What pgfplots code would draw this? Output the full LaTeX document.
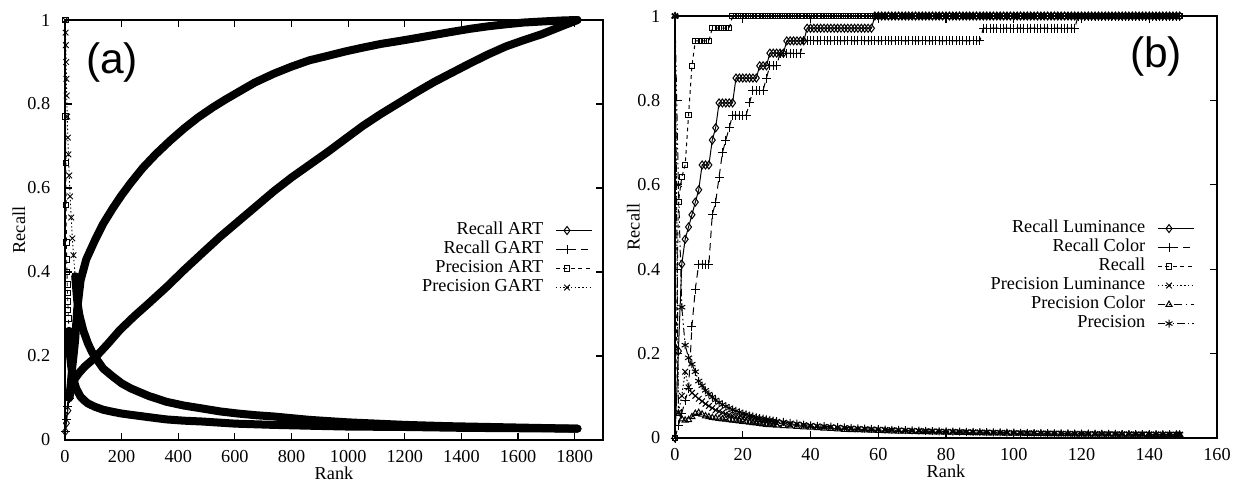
\documentclass[border=0pt]{standalone}
\usepackage{fontspec}
\setmainfont{Liberation Serif}
\newfontfamily\panelfont{Liberation Sans}
\usepackage{pgfplots}
\usepackage{pgfplotstable}
\pgfplotsset{compat=1.18}

% gnuplot-like line types
\tikzset{
  gp1/.style={black, line width=0.4pt, solid, mark=diamond, mark size=1.6pt, mark options={solid}},
  gp2/.style={black, line width=0.4pt, dash pattern=on 3pt off 2pt, mark=+, mark size=1.8pt, mark options={solid}},
  gp3/.style={black, line width=0.4pt, dash pattern=on 1.5pt off 1.5pt, mark=square, mark size=1.1pt, mark options={solid}},
  gp4/.style={black, line width=0.4pt, dash pattern=on 0.6pt off 0.9pt, mark=x, mark size=1.6pt, mark options={solid}},
  gp5/.style={black, line width=0.4pt, dash pattern=on 3pt off 1.5pt on 0.6pt off 1.5pt, mark=triangle, mark size=1.4pt, mark options={solid}},
  gp6/.style={black, line width=0.4pt, dash pattern=on 3pt off 1.2pt on 0.6pt off 1.2pt on 0.6pt off 1.2pt, mark=asterisk, mark size=1.6pt, mark options={solid}},
}

\newcommand\gpfont{\fontsize{7.3}{8.8}\selectfont}

\pgfplotsset{
  band/.style={black, line width=3.2pt, line join=round, line cap=round, mark=none, forget plot},
  gpaxis/.style={
    scale only axis, anchor=south west,
    ymin=0, ymax=1, ytick={0,0.2,0.4,0.6,0.8,1},
    tick align=inside, major tick length=2.8pt,
    axis line style={line width=0.45pt},
    every tick/.style={black, line width=0.45pt},
    tick label style={font=\gpfont},
    /pgf/number format/assume math mode=true,
    /pgf/number format/1000 sep={},
    xticklabel style={yshift=-0.7pt},
    yticklabel style={xshift=-2.4pt},
    every axis x label/.style={at={(axis description cs:0.5,0)}, anchor=center, yshift=-13.3pt, font=\gpfont},
    xlabel={Rank}, ylabel={Recall},
    clip=false,
    legend plot pos=right, legend cell align=right,
    legend style={draw=none, fill=none, inner sep=0pt, font=\gpfont,
      column sep=4.8pt, row sep=0pt, nodes={inner sep=0pt, text height=5.4pt, text depth=2.2pt}},
    legend image code/.code={\draw[mark repeat=2, mark phase=2, #1] plot coordinates {(0pt,0pt) (4.5pt,0pt) (14.4pt,0pt)};},
  },
}

% ---- panel (a) ----
\pgfplotstableread{
rank val
1 0.02
5 0.04
10 0.07
15 0.1
20 0.13
25 0.17
30 0.2
36 0.24
43 0.31
55 0.38
75 0.43
106 0.476
135 0.515
169 0.552
200 0.583
232 0.612
275 0.648
320 0.68
370 0.712
421 0.742
470 0.768
522 0.792
565 0.81
611 0.828
670 0.851
737 0.872
800 0.889
863 0.904
930 0.915
989 0.925
1050 0.934
1115 0.943
1180 0.95
1241 0.957
1300 0.964
1368 0.972
1430 0.979
1494 0.985
1560 0.99
1620 0.994
1700 0.997
1760 0.999
1810 1.0
}\recallart

\pgfplotstableread{
rank val
1 0.02
5 0.05
10 0.08
15 0.1
20 0.115
25 0.13
36 0.147
50 0.16
70 0.175
106 0.196
150 0.228
194 0.262
245 0.295
295 0.325
360 0.365
421 0.405
485 0.445
548 0.484
611 0.52
674 0.556
737 0.592
800 0.625
863 0.655
926 0.685
990 0.717
1052 0.748
1115 0.776
1178 0.802
1241 0.828
1305 0.853
1368 0.875
1431 0.897
1494 0.918
1557 0.937
1620 0.952
1683 0.966
1746 0.983
1810 1.0
}\recallgart

\pgfplotstableread{
rank val
1 1.0
2 0.77
3 0.66
4 0.56
5 0.47
6 0.43
7 0.40
8 0.37
9 0.35
10 0.33
11 0.31
12 0.29
14 0.26
16 0.23
18 0.2
22 0.175
26 0.16
30 0.143
40 0.122
55 0.103
70 0.093
81 0.087
106 0.079
135 0.072
169 0.067
200 0.063
232 0.06
300 0.054
358 0.049
420 0.046
485 0.044
600 0.039
737 0.036
863 0.034
1000 0.032
1200 0.031
1400 0.029
1600 0.028
1810 0.027
}\precart

\pgfplotstableread{
rank val
1 1.0
2 0.97
3 0.94
4 0.9
5 0.86
6 0.82
8 0.77
10 0.72
12 0.68
15 0.63
18 0.58
22 0.53
26 0.48
30 0.44
36 0.39
43 0.333
50 0.3
55 0.286
65 0.26
81 0.23
95 0.21
106 0.198
135 0.17
169 0.151
200 0.135
232 0.123
295 0.105
358 0.091
420 0.082
485 0.075
548 0.068
611 0.063
674 0.059
737 0.056
800 0.052
863 0.048
930 0.045
1000 0.042
1100 0.039
1200 0.036
1350 0.033
1500 0.031
1650 0.029
1810 0.027
}\precgart

% ---- panel (b) ----
\pgfplotstableread{
rank rl rc r
0 0 0 0
1 0.206 0.029 0.559
2 0.412 0.059 0.618
3 0.471 0.088 0.647
4 0.5 0.118 0.765
5 0.529 0.265 0.882
6 0.559 0.353 0.941
7 0.588 0.412 0.941
8 0.647 0.412 0.941
9 0.647 0.412 0.941
10 0.647 0.412 0.941
11 0.706 0.529 0.971
12 0.735 0.559 0.971
13 0.794 0.618 0.971
14 0.794 0.676 0.971
15 0.794 0.706 0.971
16 0.794 0.735 0.971
17 0.794 0.765 1
18 0.853 0.765 1
19 0.853 0.765 1
20 0.853 0.765 1
21 0.853 0.765 1
22 0.853 0.794 1
23 0.853 0.824 1
24 0.853 0.824 1
25 0.882 0.824 1
26 0.882 0.824 1
27 0.882 0.853 1
28 0.912 0.882 1
29 0.912 0.882 1
30 0.912 0.882 1
31 0.912 0.912 1
32 0.912 0.912 1
33 0.941 0.912 1
34 0.941 0.912 1
35 0.941 0.912 1
36 0.941 0.912 1
37 0.941 0.912 1
38 0.941 0.941 1
39 0.971 0.941 1
40 0.971 0.941 1
41 0.971 0.941 1
42 0.971 0.941 1
43 0.971 0.941 1
44 0.971 0.941 1
45 0.971 0.941 1
46 0.971 0.941 1
47 0.971 0.941 1
48 0.971 0.941 1
49 0.971 0.941 1
50 0.971 0.941 1
51 0.971 0.941 1
52 0.971 0.941 1
53 0.971 0.941 1
54 0.971 0.941 1
55 0.971 0.941 1
56 0.971 0.941 1
57 0.971 0.941 1
58 0.971 0.941 1
59 1 0.941 1
60 1 0.941 1
61 1 0.941 1
62 1 0.941 1
63 1 0.941 1
64 1 0.941 1
65 1 0.941 1
66 1 0.941 1
67 1 0.941 1
68 1 0.941 1
69 1 0.941 1
70 1 0.941 1
71 1 0.941 1
72 1 0.941 1
73 1 0.941 1
74 1 0.941 1
75 1 0.941 1
76 1 0.941 1
77 1 0.941 1
78 1 0.941 1
79 1 0.941 1
80 1 0.941 1
81 1 0.941 1
82 1 0.941 1
83 1 0.941 1
84 1 0.941 1
85 1 0.941 1
86 1 0.941 1
87 1 0.941 1
88 1 0.941 1
89 1 0.941 1
90 1 0.941 1
91 1 0.971 1
92 1 0.971 1
93 1 0.971 1
94 1 0.971 1
95 1 0.971 1
96 1 0.971 1
97 1 0.971 1
98 1 0.971 1
99 1 0.971 1
100 1 0.971 1
101 1 0.971 1
102 1 0.971 1
103 1 0.971 1
104 1 0.971 1
105 1 0.971 1
106 1 0.971 1
107 1 0.971 1
108 1 0.971 1
109 1 0.971 1
110 1 0.971 1
111 1 0.971 1
112 1 0.971 1
113 1 0.971 1
114 1 0.971 1
115 1 0.971 1
116 1 0.971 1
117 1 0.971 1
118 1 0.971 1
119 1 1 1
120 1 1 1
121 1 1 1
122 1 1 1
123 1 1 1
124 1 1 1
125 1 1 1
126 1 1 1
127 1 1 1
128 1 1 1
129 1 1 1
130 1 1 1
131 1 1 1
132 1 1 1
133 1 1 1
134 1 1 1
135 1 1 1
136 1 1 1
137 1 1 1
138 1 1 1
139 1 1 1
140 1 1 1
141 1 1 1
142 1 1 1
143 1 1 1
144 1 1 1
145 1 1 1
146 1 1 1
147 1 1 1
148 1 1 1
149 1 1 1
}\recalltab

\pgfplotstableread{
rank p pl pc
0 1 1 1
1 0.6 0.06 0.058
2 0.31 0.1 0.045
3 0.22 0.157 0.042
4 0.19 0.12 0.043
5 0.175 0.107 0.05
6 0.157 0.1 0.058
7 0.135 0.093 0.06
8 0.124 0.087 0.056
9 0.113 0.081 0.052
10 0.104 0.076 0.05
11 0.097 0.071 0.048
12 0.09 0.066 0.047
13 0.084 0.063 0.046
14 0.079 0.06 0.045
15 0.075 0.057 0.044
16 0.071 0.055 0.043
17 0.067 0.053 0.042
18 0.064 0.051 0.041
19 0.061 0.049 0.04
20 0.058 0.047 0.039
21 0.056 0.045 0.038
22 0.053 0.044 0.037
23 0.051 0.042 0.036
24 0.049 0.041 0.035
25 0.047 0.04 0.034
26 0.046 0.039 0.033
27 0.044 0.038 0.032
28 0.043 0.037 0.031
29 0.041 0.036 0.031
30 0.04 0.035 0.03
32 0.038 0.034 0.029
34 0.036 0.032 0.028
36 0.034 0.031 0.027
38 0.032 0.03 0.026
40 0.03 0.028 0.025
42 0.029 0.027 0.024
44 0.028 0.026 0.023
46 0.027 0.025 0.022
48 0.026 0.024 0.021
50 0.025 0.023 0.02
52 0.024 0.022 0.0195
54 0.023 0.021 0.019
56 0.022 0.0205 0.0185
58 0.0215 0.02 0.018
60 0.021 0.0195 0.0175
62 0.02 0.019 0.017
64 0.0195 0.0185 0.0165
66 0.019 0.018 0.016
68 0.0185 0.0175 0.0155
70 0.018 0.017 0.015
72 0.0175 0.0165 0.0147
74 0.017 0.016 0.0144
76 0.0165 0.0156 0.0141
78 0.016 0.0152 0.0138
80 0.0157 0.0148 0.0135
82 0.0153 0.0145 0.0132
84 0.015 0.0142 0.0129
86 0.0146 0.0139 0.0126
88 0.0143 0.0136 0.0123
90 0.014 0.0133 0.012
92 0.0137 0.013 0.0118
94 0.0134 0.0127 0.0116
96 0.0131 0.0124 0.0114
98 0.0128 0.0121 0.0112
100 0.0125 0.0118 0.011
102 0.0122 0.0116 0.0108
104 0.012 0.0114 0.0106
106 0.0118 0.0112 0.0104
108 0.0116 0.011 0.0102
110 0.0114 0.0108 0.01
112 0.0112 0.0106 0.0098
114 0.011 0.0104 0.0096
116 0.0108 0.0102 0.0095
118 0.0106 0.01 0.0094
120 0.0104 0.0098 0.0093
122 0.0102 0.0096 0.0092
124 0.01 0.0095 0.0091
126 0.0099 0.0094 0.009
128 0.0097 0.0093 0.0089
130 0.0096 0.0092 0.0088
132 0.0094 0.009 0.0087
134 0.0093 0.0089 0.0086
136 0.0092 0.0088 0.0085
138 0.009 0.0087 0.0084
140 0.0089 0.0086 0.0083
142 0.0088 0.0085 0.0082
144 0.0087 0.0084 0.0081
146 0.0086 0.0083 0.008
148 0.0085 0.0082 0.0079
149 0.0084 0.0081 0.0078
}\prectab

\begin{document}
\begin{tikzpicture}
\path[use as bounding box] (0,0) rectangle (493.2pt,193.2pt);

\begin{axis}[gpaxis, at={(26pt,17.2pt)}, width=215.2pt, height=168pt,
  xmin=0, xmax=1900, xtick={0,200,...,1800},
  every axis y label/.style={at={(axis description cs:-0.0855,0.5)}, rotate=90, anchor=center, font=\gpfont},
  legend style={at={(axis description cs:0.981,0.5226)}, anchor=north east}]
% dense curves drawn as bands, sparse start with markers
\addplot[band, restrict x to domain=15:2000] table[x=rank,y=val] {\recallart};
\addplot[band, restrict x to domain=15:2000] table[x=rank,y=val] {\recallgart};
\addplot[band, restrict x to domain=14:2000] table[x=rank,y=val] {\precart};
\addplot[band, restrict x to domain=36:2000] table[x=rank,y=val] {\precgart};
\addplot[gp1, line width=0.35pt, forget plot, restrict x to domain=0:20] table[x=rank,y=val] {\recallart};
\addplot[gp2, line width=0.35pt, forget plot, restrict x to domain=0:20] table[x=rank,y=val] {\recallgart};
\addplot[gp3, line width=0.35pt, forget plot, restrict x to domain=0:18] table[x=rank,y=val] {\precart};
\addplot[gp4, line width=0.35pt, forget plot, restrict x to domain=0:43] table[x=rank,y=val] {\precgart};
\addlegendimage{gp1}\addlegendentry{Recall ART}
\addlegendimage{gp2}\addlegendentry{Recall GART}
\addlegendimage{gp3}\addlegendentry{Precision ART}
\addlegendimage{gp4}\addlegendentry{Precision GART}
\node[font=\panelfont\fontsize{17}{17}\selectfont] at (axis cs:166,0.9) {(a)};
\end{axis}

\begin{axis}[gpaxis, at={(270pt,18pt)}, width=216.8pt, height=168.8pt,
  xmin=0, xmax=160, xtick={0,20,...,160},
  every axis y label/.style={at={(axis description cs:-0.0766,0.5)}, rotate=90, anchor=center, font=\gpfont},
  legend style={at={(axis description cs:0.959,0.520)}, anchor=north east}]
\addplot[gp1] table[x=rank,y=rl] {\recalltab};
\addlegendentry{Recall Luminance}
\addplot[gp2] table[x=rank,y=rc] {\recalltab};
\addlegendentry{Recall Color}
\addplot[gp3] table[x=rank,y=r] {\recalltab};
\addlegendentry{Recall}
\addplot[gp4] table[x=rank,y=pl] {\prectab};
\addlegendentry{Precision Luminance}
\addplot[gp5] table[x=rank,y=pc] {\prectab};
\addlegendentry{Precision Color}
\addplot[gp6] table[x=rank,y=p] {\prectab};
\addlegendentry{Precision}
\node[font=\panelfont\fontsize{17}{17}\selectfont] at (axis cs:142,0.905) {(b)};
\end{axis}
\end{tikzpicture}
\end{document}
